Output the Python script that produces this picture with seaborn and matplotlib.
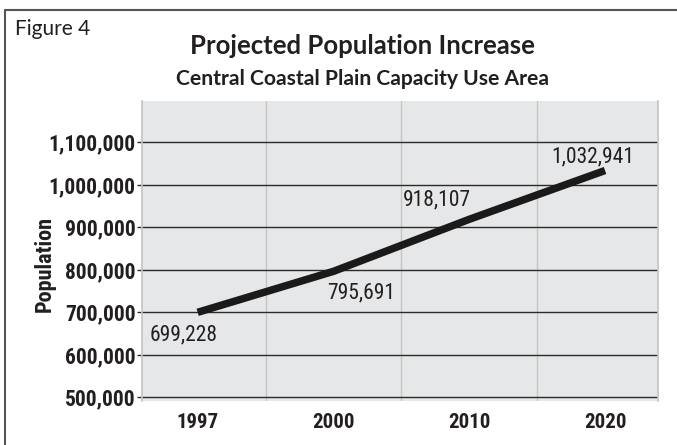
import matplotlib
matplotlib.use("Agg")
import matplotlib.pyplot as plt
import seaborn as sns
import pandas as pd
import numpy as np
from matplotlib.ticker import FixedLocator, FuncFormatter
from matplotlib.lines import Line2D

years = ["1997", "2000", "2010", "2020"]
population = [699228, 795691, 918107, 1032941]
value_labels = ["699,228", "795,691", "918,107", "1,032,941"]
ytick_values = [500000, 600000, 700000, 800000, 900000, 1000000, 1100000]

sns.set_theme(style="white")
NARROW = ["Roboto Condensed", "Lato", "DejaVu Sans"]
plt.rcParams["font.family"] = NARROW

df = pd.DataFrame({"Year": years, "Population": population})

fig = plt.figure(figsize=(6.77, 4.45), dpi=100)
ax = fig.add_axes([142/677, 1-401/445, (658-142)/677, (401-101)/445])
ax.set_facecolor("#e6e7e8")

sns.lineplot(data=df, x="Year", y="Population", ax=ax, color="#1a1a1a",
             linewidth=5.4, sort=False)
for l in ax.lines:
    l.set_solid_capstyle("butt")
    l.set_solid_joinstyle("miter")

ax.set_xlim(-0.41, 3.39)
ax.set_ylim(490600, 1196500)
ax.set_yticks(ytick_values)
ax.yaxis.set_major_formatter(FuncFormatter(lambda v, p: f"{int(v):,}"))
ax.xaxis.set_minor_locator(FixedLocator([0.5, 1.5, 2.5]))

ax.grid(True, which="major", axis="y", color="#2a2a2a", linewidth=1.0)
ax.grid(True, which="minor", axis="x", color="#c4c4c4", linewidth=1.0)
ax.grid(False, which="major", axis="x")
ax.set_axisbelow(True)

for s in ["top", "bottom"]:
    ax.spines[s].set_visible(False)
for s in ["left", "right"]:
    ax.spines[s].set_color("#c4c4c4")
    ax.spines[s].set_linewidth(1.2)

ax.tick_params(axis="y", which="major", length=3.5, width=1.0, color="#2a2a2a",
               pad=1, labelsize=15.5, left=True, direction="out")
ax.tick_params(axis="x", which="both", length=0, pad=9, labelsize=15)
for t in ax.get_yticklabels() + ax.get_xticklabels():
    t.set_fontweight("bold")
    t.set_color("#231f20")

ax.set_xlabel("")
ax.set_ylabel("")

# value annotations (offsets in points)
offsets = [(-10, -16), (20, -15.5), (-23, 14), (-9, 10)]
for i, (lab, val) in enumerate(zip(value_labels, population)):
    dx, dy = offsets[i]
    ax.annotate(lab, xy=(i, val), xytext=(dx, dy), textcoords="offset points",
                ha="center", va="center", fontsize=15.5, color="#231f20")

fig.text(45/677, 1-264/445, "Population", rotation=90, ha="center", va="center",
         fontsize=16, fontweight="bold", color="#231f20")

fig.text(15/677, 1-35/445, "Figure 4", ha="left", va="baseline", fontsize=15,
         color="#231f20", family=["Lato", "DejaVu Sans"])
fig.text(362/677, 1-54/445, "Projected Population Increase", ha="center",
         va="baseline", fontsize=18.5, fontweight="bold", color="#231f20",
         family=["Lato", "DejaVu Sans"])
fig.text(362/677, 1-85/445, "Central Coastal Plain Capacity Use Area", ha="center",
         va="baseline", fontsize=15.2, fontweight="bold", color="#231f20",
         family=["Lato", "DejaVu Sans"])

# outer frame (top and left edges)
fig.add_artist(Line2D([5/677, 1.0], [1-10/445, 1-10/445], transform=fig.transFigure,
                      color="#555555", linewidth=1.5))
fig.add_artist(Line2D([5/677, 5/677], [0, 1-10/445], transform=fig.transFigure,
                      color="#555555", linewidth=1.5))

fig.savefig("out.png", dpi=100, facecolor="white")
